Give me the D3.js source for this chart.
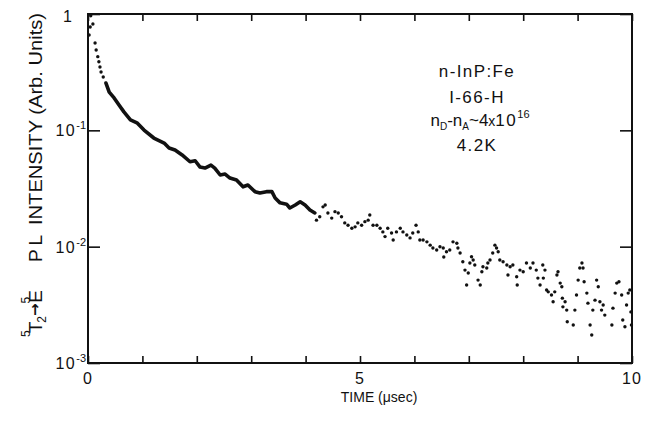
<!DOCTYPE html>
<html>
<head>
<meta charset="utf-8">
<script src="https://cdn.jsdelivr.net/npm/d3@7/dist/d3.min.js"></script>
<style>
  body { margin: 0; background: #fff; }
  svg { display: block; font-family: "Liberation Sans", Arial, sans-serif; }
</style>
</head>
<body>
<svg id="chart"></svg>
<script>
// dense part of the decay, drawn as a thick trace (time in usec, intensity arb. units)
const traceT = [0.33, 0.39, 0.48, 0.57, 0.66, 0.78, 0.90, 1.03, 1.21, 1.40, 1.49, 1.60, 1.73, 1.875, 1.97,
  2.06, 2.15, 2.26, 2.33, 2.43, 2.52, 2.61, 2.73, 2.85, 2.94, 3.07, 3.16, 3.28, 3.38, 3.44, 3.53, 3.65,
  3.71, 3.81, 3.90, 3.99, 4.08, 4.17]
const traceI = [0.255, 0.213, 0.19, 0.165, 0.144, 0.123, 0.116, 0.1006, 0.0859, 0.0778, 0.0705, 0.0678, 0.0614, 0.0537, 0.0548,
  0.0483, 0.0474, 0.0503, 0.0474, 0.0413, 0.0421, 0.0389, 0.0374, 0.0327, 0.0339, 0.0297, 0.0289, 0.0297, 0.0297, 0.0262, 0.0238, 0.0232,
  0.0215, 0.0228, 0.0243, 0.0228, 0.0207, 0.0195]

// separate points: the first rise/fall and the noisy tail
const dotT = [0.02, 0.04, 0.05, 0.09, 0.13, 0.15, 0.18, 0.20, 0.22, 0.24, 0.28,
  4.20, 4.26, 4.32, 4.36, 4.41, 4.48, 4.54, 4.60, 4.66, 4.72, 4.78, 4.85, 4.91, 4.96, 5.03, 5.09, 5.15, 5.18,
  5.24, 5.31, 5.37, 5.42, 5.46, 5.51, 5.58, 5.61, 5.67, 5.74, 5.79, 5.86, 5.92, 5.97, 6.03, 6.07, 6.10,
  6.16, 6.23, 6.29, 6.34, 6.41, 6.47, 6.53, 6.54, 6.59, 6.65, 6.71, 6.78, 6.80, 6.84, 6.89, 6.93, 6.96,
  6.99, 7.02, 7.05, 7.08, 7.11, 7.17, 7.21, 7.24, 7.26, 7.33, 7.35, 7.39, 7.44, 7.48, 7.51, 7.54, 7.57,
  7.63, 7.70, 7.72, 7.76, 7.81, 7.88, 7.89, 7.94, 8.00, 8.06, 8.13, 8.18, 8.24, 8.27, 8.31, 8.36, 8.37,
  8.40, 8.43, 8.46, 8.52, 8.55, 8.58, 8.62, 8.64, 8.68, 8.71, 8.72, 8.73, 8.77, 8.80, 8.81, 8.92, 8.95,
  8.98, 9.01, 9.04, 9.08, 9.10, 9.12, 9.17, 9.19, 9.23, 9.26, 9.28, 9.32, 9.35, 9.38, 9.41, 9.44, 9.47,
  9.50, 9.63, 9.65, 9.69, 9.72, 9.76, 9.81, 9.83, 9.87, 9.90, 9.93, 9.96, 9.98, 9.99]
const dotI = [0.66, 0.773, 0.967, 0.82, 0.563, 0.49, 0.43, 0.389, 0.35, 0.317, 0.287,
  0.0169, 0.0181, 0.0220, 0.0228, 0.0195, 0.0176, 0.0200, 0.0195, 0.0181, 0.0160, 0.0153, 0.0144, 0.0148, 0.0160, 0.0153, 0.0164, 0.0169, 0.0187,
  0.0153, 0.0153, 0.0144, 0.0134, 0.0122, 0.0144, 0.0131, 0.0114, 0.0134, 0.0144, 0.0134, 0.0126, 0.0119, 0.0131, 0.0153, 0.0134, 0.0114,
  0.0114, 0.0110, 0.0103, 0.00973, 0.00935, 0.00998, 0.00973, 0.00815, 0.00904, 0.00935, 0.0110, 0.0107, 0.00973, 0.00881, 0.00742, 0.00629, 0.00468,
  0.00593, 0.00723, 0.00819, 0.00767, 0.00695, 0.00516, 0.00468, 0.00608, 0.00671, 0.00655, 0.00723, 0.00767, 0.00881, 0.0103, 0.00973, 0.00904, 0.00767,
  0.00742, 0.00695, 0.00570, 0.00671, 0.00695, 0.00551, 0.00468, 0.00629, 0.00608, 0.00723, 0.00655, 0.00723, 0.00629, 0.00537, 0.00468, 0.00695, 0.00537,
  0.00629, 0.00424, 0.00409, 0.00384, 0.00336, 0.00409, 0.00570, 0.00608, 0.00486, 0.00452, 0.00361, 0.00304, 0.00336, 0.00285, 0.00226, 0.00212, 0.00285,
  0.00384, 0.00516, 0.00655, 0.00723, 0.00655, 0.00499, 0.00399, 0.00327, 0.00212, 0.00174, 0.00285, 0.00347, 0.00516, 0.00452, 0.00336, 0.00285, 0.00315,
  0.00258, 0.00212, 0.00296, 0.00399, 0.00486, 0.00499, 0.00384, 0.00234, 0.00205, 0.00315, 0.00399, 0.00424, 0.00275, 0.00212]

const xTicks = [0, 1, 2, 3, 4, 5, 6, 7, 8, 9, 10]
const xLabels = [0, 5, 10]
const yTicks = [1e-3, 1e-2, 1e-1, 1]
const yExponents = ["-3", "-2", "-1", ""]
const notes = ["n-InP:Fe", "I-66-H", null, "4.2K"]

const width = 646, height = 426
const margin = { top: 14, right: 14, bottom: 63, left: 88 }
const ink = "#111"

const svg = d3.select("#chart").attr("width", width).attr("height", height)

const x = d3.scaleLinear().domain([0, 10]).range([margin.left, width - margin.right])
const y = d3.scaleLog().domain([1e-3, 1]).range([height - margin.bottom, margin.top])

// ticks, all pointing inward
const tickGroups = [
  [d3.axisBottom(x).tickValues(xTicks).tickSize(-7), `translate(0,${y(1e-3)})`],
  [d3.axisTop(x).tickValues(xTicks).tickSize(-7), `translate(0,${y(1)})`],
  [d3.axisLeft(y).tickValues(yTicks).tickSize(-12), `translate(${x(0)},0)`],
  [d3.axisRight(y).tickValues(yTicks).tickSize(-12), `translate(${x(10)},0)`]
]
tickGroups.forEach(([axis, tr]) => {
  const g = svg.append("g").attr("transform", tr).call(axis.tickFormat(""))
  g.select(".domain").remove()
  g.selectAll("line").attr("stroke", ink).attr("stroke-width", 1.6)
})

svg.append("rect")
  .attr("x", x(0)).attr("y", y(1))
  .attr("width", x(10) - x(0)).attr("height", y(1e-3) - y(1))
  .attr("fill", "none").attr("stroke", ink).attr("stroke-width", 2)

// x labels
svg.selectAll("text.xl").data(xLabels).enter().append("text")
  .attr("class", "xl")
  .attr("x", (d) => x(d)).attr("y", y(1e-3) + 21)
  .attr("text-anchor", "middle").attr("font-size", 16).attr("letter-spacing", 1)
  .attr("fill", ink).text((d) => d)

svg.append("text")
  .attr("x", x(5.35)).attr("y", height - 24)
  .attr("text-anchor", "middle").attr("font-size", 14).attr("fill", ink)
  .text("TIME (\u03BCsec)")

// y labels: 1, 10^-1, ...
yTicks.forEach((v, i) => {
  const t = svg.append("text")
    .attr("x", x(0) - 2).attr("y", y(v) + 6)
    .attr("text-anchor", "end").attr("font-size", 16).attr("fill", ink)
  if (v === 1) {
    t.attr("x", x(0) - 16).attr("y", y(v) + 8).text("1")
  } else {
    t.append("tspan").attr("letter-spacing", 1.5).text("10")
    t.append("tspan").attr("font-size", 11).attr("dy", -7).text(yExponents[i])
  }
})

// rotated y title
const yt = svg.append("g").attr("transform", "translate(42,0) rotate(-90)")
const part1 = yt.append("text").attr("x", -337).attr("y", 0).attr("font-size", 19).attr("fill", ink)
part1.append("tspan").attr("font-size", 12).attr("dy", -12).text("5")
part1.append("tspan").attr("dy", 12).attr("dx", -3).text("T")
part1.append("tspan").attr("font-size", 12).attr("dy", 4).attr("dx", -1).text("2")
part1.append("tspan").attr("font-family", "DejaVu Sans").attr("font-size", 15).attr("font-weight", "bold")
  .attr("dy", -6).attr("dx", 0).text("\u2192")
part1.append("tspan").attr("font-size", 12).attr("dy", -10).attr("dx", 0).text("5")
part1.append("tspan").attr("dy", 12).attr("dx", -6).text("E")
yt.append("text").attr("x", -262).attr("y", 0).attr("font-size", 19).attr("fill", ink)
  .attr("textLength", 27).text("PL")
yt.append("text").attr("x", -225).attr("y", 0).attr("font-size", 19).attr("fill", ink)
  .attr("textLength", 212).attr("lengthAdjust", "spacingAndGlyphs").text("INTENSITY (Arb. Units)")

// annotation block
const noteX = 477
const noteY = [77, 103, 126, 151]
notes.forEach((s, i) => {
  if (!s) return
  svg.append("text").attr("x", noteX).attr("y", noteY[i])
    .attr("text-anchor", "middle").attr("font-size", 17).attr("letter-spacing", 1.4)
    .attr("fill", ink).text(s)
})
const n3 = svg.append("text").attr("x", noteX + 3).attr("y", noteY[2])
  .attr("text-anchor", "middle").attr("font-size", 17).attr("fill", ink)
n3.append("tspan").text("n")
n3.append("tspan").attr("font-size", 10).attr("dy", 4).text("D")
n3.append("tspan").attr("dy", -4).text("-n")
n3.append("tspan").attr("font-size", 10).attr("dy", 4).text("A")
n3.append("tspan").attr("dy", -4).text("~4")
n3.append("tspan").attr("font-size", 14).text("x")
n3.append("tspan").attr("letter-spacing", 1.5).text("10")
n3.append("tspan").attr("font-size", 11).attr("dy", -8).text("16")

// data
const trace = traceT.map((t, i) => [t, traceI[i]])
const dots = dotT.map((t, i) => [t, dotI[i]])

svg.append("path").datum(trace)
  .attr("fill", "none").attr("stroke", ink).attr("stroke-width", 3.6)
  .attr("stroke-linejoin", "round").attr("stroke-linecap", "round")
  .attr("d", d3.line().x((d) => x(d[0])).y((d) => y(d[1])))

svg.append("g").selectAll("circle").data(dots).enter().append("circle")
  .attr("cx", (d) => x(d[0])).attr("cy", (d) => y(d[1]))
  .attr("r", 1.7).attr("fill", ink)
</script>
</body>
</html>
